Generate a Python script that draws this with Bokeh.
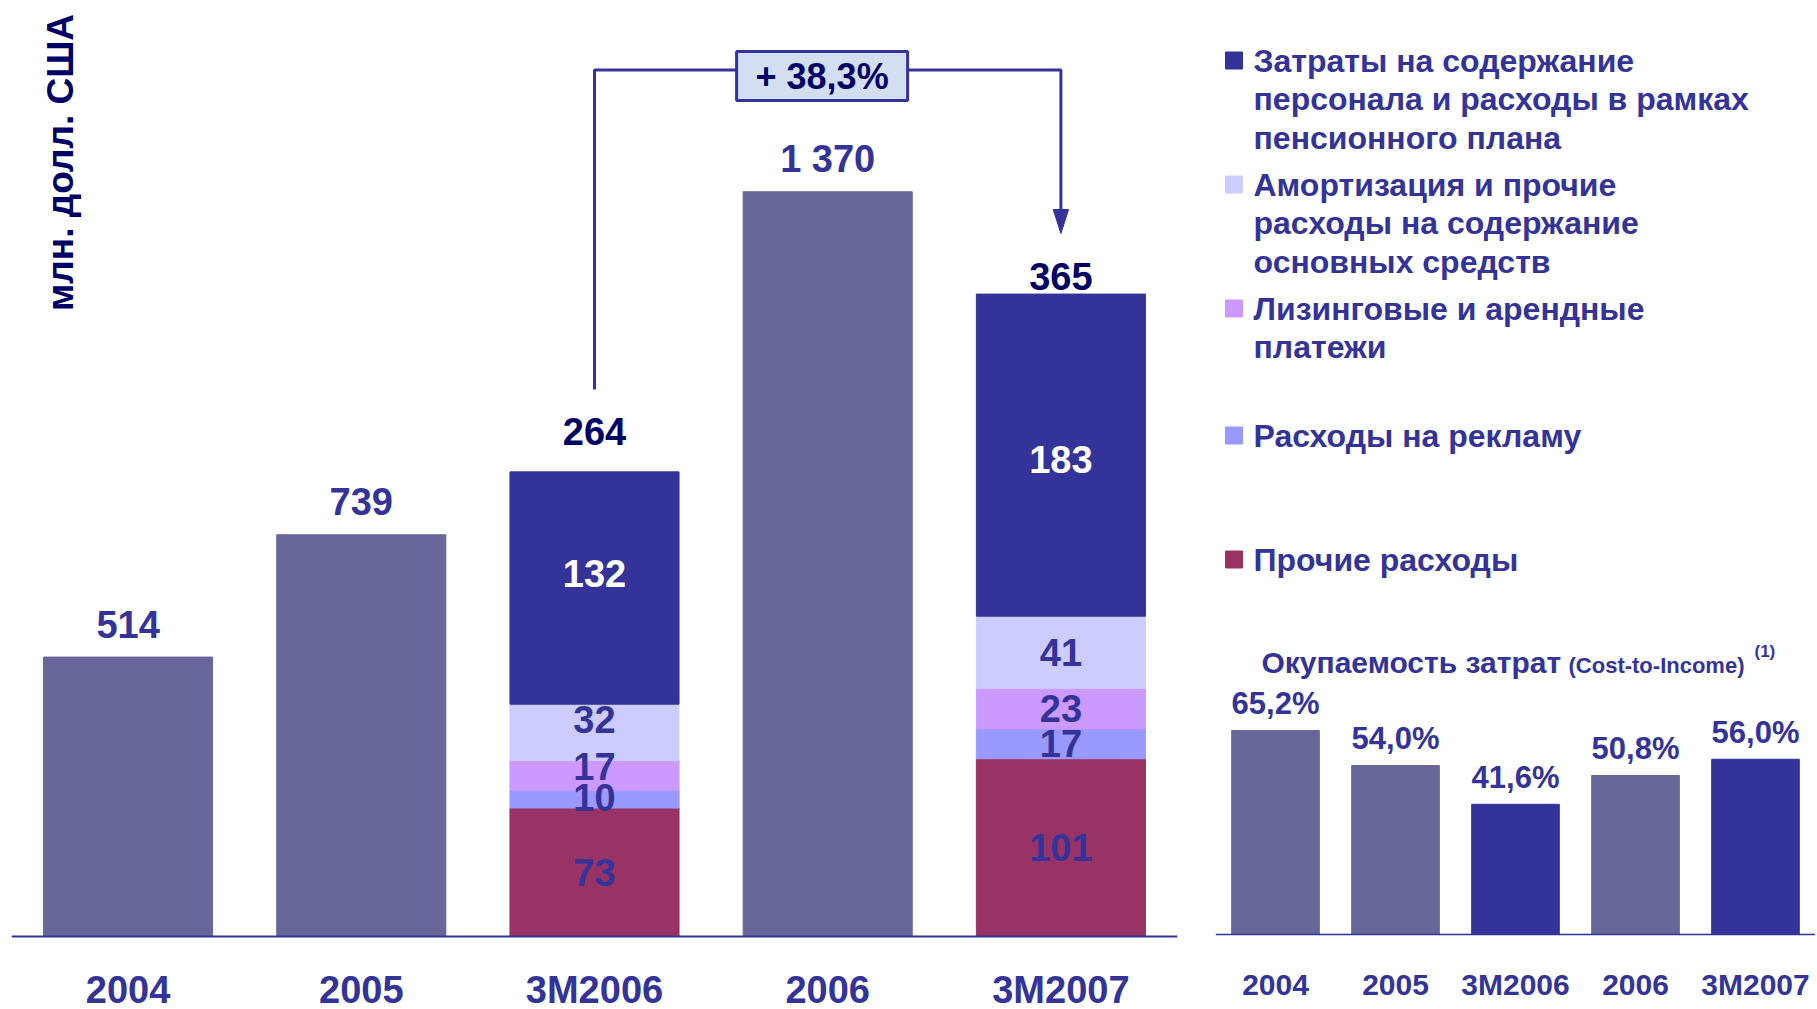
import math
from bokeh.plotting import figure
from bokeh.models import FactorRange, Range1d, Label
from bokeh.layouts import row, column
from bokeh.embed import file_html
from bokeh.resources import INLINE
from bokeh.core.properties import value

# ---------------- data ----------------
periods = ["2004", "2005", "3M2006", "2006", "3M2007"]
annual_periods = ["2004", "2005", "2006"]
annual_totals = [514, 739, 1370]
quarter_periods = ["3M2006", "3M2007"]
other_costs = [73, 101]        # Прочие расходы
advert_costs = [10, 17]        # Расходы на рекламу
leasing_costs = [17, 23]       # Лизинговые и арендные платежи
amort_costs = [32, 41]         # Амортизация ...
staff_costs = [132, 183]       # Затраты на содержание персонала ...
quarter_totals = [264, 365]
cti_values = [65.2, 54.0, 41.6, 50.8, 56.0]

legend_lines = [
    ["Затраты на содержание", "персонала и расходы в рамках", "пенсионного плана"],
    ["Амортизация и прочие", "расходы на содержание", "основных средств"],
    ["Лизинговые и арендные", "платежи"],
    ["Расходы на рекламу"],
    ["Прочие расходы"],
]
y_label = "млн. долл. США"
cti_title = "Окупаемость затрат"
cti_sub = "(Cost-to-Income)"
cti_note = "(1)"

# ---------------- styles ----------------
FONT = "Liberation Sans"
C_ANNUAL = "#666699"
C_STAFF = "#333399"
C_AMORT = "#CCCCFF"
C_LEASE = "#CC99FF"
C_ADV = "#9999FF"
C_OTHER = "#993366"
C_TEXT = "#333399"
C_DARK = "#000066"

TOTAL_W, TOTAL_H = 1815, 1009

# ---------------- left chart ----------------
W_L = 1201
BASE_L = 936             # pixel row of the zero line
PX_ANN = 0.5436          # px per mln (annual)
PX_Q = 1.76              # px per mln (quarterly)
below = TOTAL_H - BASE_L

def ann_y(iy):
    """pixel row (from top) -> annual data value"""
    return (BASE_L - iy) / PX_ANN

p = figure(width=W_L, height=TOTAL_H, x_range=FactorRange(factors=periods),
           y_range=Range1d(-below / PX_ANN, BASE_L / PX_ANN), y_axis_location=None,
           min_border_left=11, min_border_right=24, min_border_top=0,
           min_border_bottom=0, toolbar_location=None,
           output_backend="svg", outline_line_color=None)
p.extra_y_ranges = {"q": Range1d(-below / PX_Q, BASE_L / PX_Q)}
p.xgrid.visible = False
p.ygrid.visible = False
p.xaxis.fixed_location = 0
p.xaxis.axis_line_color = C_TEXT
p.xaxis.axis_line_width = 2
p.xaxis.major_tick_out = 0
p.xaxis.major_tick_in = 0
p.xaxis.major_tick_line_color = None
p.xaxis.minor_tick_line_color = None
p.xaxis.major_label_text_font = FONT
p.xaxis.major_label_text_font_style = "bold"
p.xaxis.major_label_text_font_size = "38px"
p.xaxis.major_label_text_color = C_TEXT
p.xaxis.major_label_standoff = 32

BAR_W = 0.725
p.vbar(x=annual_periods, top=annual_totals, width=BAR_W, color=C_ANNUAL)

stack_keys = ["other", "advert", "leasing", "amort", "staff"]
stack_data = {"period": quarter_periods, "other": other_costs, "advert": advert_costs,
              "leasing": leasing_costs, "amort": amort_costs, "staff": staff_costs}
stack_colors = [C_OTHER, C_ADV, C_LEASE, C_AMORT, C_STAFF]
p.vbar_stack(stack_keys, x="period", width=BAR_W, color=stack_colors,
             source=stack_data, y_range_name="q")

fmt = lambda v: f"{v:,}".replace(",", " ")

p.text(x=annual_periods, y=annual_totals, text=[fmt(v) for v in annual_totals],
       y_offset=-33, text_align="center", text_baseline="middle",
       text_font=value(FONT), text_font_style="bold", text_font_size="38px",
       text_color=C_TEXT)
total_offsets = {"3M2006": -40, "3M2007": -18}   # label gap above each stacked bar, px
p.text(x=quarter_periods, y=quarter_totals, text=[fmt(v) for v in quarter_totals],
       y_offset=[total_offsets[q] for q in quarter_periods],
       text_align="center", text_baseline="middle",
       text_font=value(FONT), text_font_style="bold", text_font_size="38px",
       text_color=C_DARK, y_range_name="q")

# small-segment label nudges (pixels, negative = up) to keep labels apart
label_nudge = {("3M2006", "leasing"): -9, ("3M2006", "advert"): -2,
               ("3M2006", "amort"): -13, ("3M2006", "staff"): -15,
               ("3M2007", "staff"): 4}
sx, sy, st, sc, so = [], [], [], [], []
for qi, per in enumerate(quarter_periods):
    cum = 0
    for key in stack_keys:
        v = stack_data[key][qi]
        sx.append(per); sy.append(cum + v / 2); st.append(str(v))
        sc.append("white" if key == "staff" else C_TEXT)
        so.append(label_nudge.get((per, key), 0))
        cum += v
p.text(x=sx, y=sy, text=st, y_offset=so, text_align="center", text_baseline="middle",
       text_font=value(FONT), text_font_style="bold", text_font_size="38px",
       text_color=sc, y_range_name="q")

# y label
CAT_PX = (W_L - 11 - 24) / len(periods)
p.add_layout(Label(x=(60 - 11) / CAT_PX, y=ann_y(162), text=y_label, angle=math.pi / 2,
                   text_align="center", text_baseline="middle", text_font=FONT,
                   text_font_style="bold", text_font_size="37px", text_color=C_DARK))

# growth bracket
i0 = periods.index("3M2006") + 0.5
i1 = periods.index("3M2007") + 0.5
y_bot, y_top, y_hb, y_tip = ann_y(389), ann_y(69.5), ann_y(209), ann_y(233)
p.line(x=[i0, i0, i1, i1], y=[y_bot, y_top, y_top, y_hb], line_color=C_TEXT, line_width=3)
p.patch(x=[i1 - 0.033, i1 + 0.033, i1], y=[y_hb, y_hb, y_tip], color=C_TEXT)
growth = (quarter_totals[1] / quarter_totals[0] - 1) * 100
growth_txt = "+ " + f"{growth:.1f}".replace(".", ",") + "%"
bx = periods.index("2006") + 0.476
by = ann_y(75.5)
p.rect(x=bx, y=by, width=171, height=49, width_units="screen", height_units="screen",
       fill_color="#D3DEF0", line_color=C_TEXT, line_width=3)
p.text(x=bx, y=by, text=[growth_txt], text_align="center", text_baseline="middle",
       text_font=value(FONT), text_font_style="bold", text_font_size="36px",
       text_color=C_DARK)

# ---------------- legend panel ----------------
W_R = TOTAL_W - W_L
H_LG = 684
R_LEFT = 14      # frame inset shared by the right column
lg = figure(width=W_R, height=H_LG, x_range=Range1d(R_LEFT, W_R), y_range=Range1d(H_LG, 0),
            x_axis_location=None, y_axis_location=None, min_border=0,
            min_border_left=R_LEFT,
            toolbar_location=None, output_backend="svg", outline_line_color=None)
lg.xgrid.visible = False
lg.ygrid.visible = False
legend_colors = [C_STAFF, C_AMORT, C_LEASE, C_ADV, C_OTHER]
first_y = [60, 184, 308, 435, 559]
LINE_H = 38.5
lg.rect(x=[32.5] * 5, y=first_y, width=17, height=17, color=legend_colors)
lx, ly, lt = [], [], []
for lines, y0 in zip(legend_lines, first_y):
    for k, t in enumerate(lines):
        lx.append(52); ly.append(y0 + k * LINE_H); lt.append(t)
lg.text(x=lx, y=ly, text=lt, text_align="left", text_baseline="middle",
        text_font=value(FONT), text_font_style="bold", text_font_size="32px",
        text_color=C_TEXT)
lg.text(x=[60], y=[662], text=[cti_title], text_align="left", text_baseline="middle",
        text_font=value(FONT), text_font_style="bold", text_font_size="30px", text_color=C_TEXT)
lg.text(x=[367], y=[665], text=[cti_sub], text_align="left", text_baseline="middle",
        text_font=value(FONT), text_font_style="bold", text_font_size="22px", text_color=C_TEXT)
lg.text(x=[553], y=[651], text=[cti_note], text_align="left", text_baseline="middle",
        text_font=value(FONT), text_font_style="bold", text_font_size="17px", text_color=C_TEXT)

# ---------------- right chart ----------------
H_R = TOTAL_H - H_LG
BASE_R = 934 - H_LG
PX_PCT = 3.13
r = figure(width=W_R, height=H_R, x_range=FactorRange(factors=periods),
           y_range=Range1d(-(H_R - BASE_R) / PX_PCT, BASE_R / PX_PCT), y_axis_location=None,
           min_border_left=R_LEFT, min_border_right=0, min_border_top=0,
           min_border_bottom=0, toolbar_location=None,
           output_backend="svg", outline_line_color=None)
r.xgrid.visible = False
r.ygrid.visible = False
r.xaxis.fixed_location = 0
r.xaxis.axis_line_color = C_TEXT
r.xaxis.axis_line_width = 1.5
r.xaxis.major_tick_out = 0
r.xaxis.major_tick_in = 0
r.xaxis.major_tick_line_color = None
r.xaxis.minor_tick_line_color = None
r.xaxis.major_label_text_font = FONT
r.xaxis.major_label_text_font_style = "bold"
r.xaxis.major_label_text_font_size = "30px"
r.xaxis.major_label_text_color = C_TEXT
r.xaxis.major_label_standoff = 33
cti_colors = [C_STAFF if per.startswith("3M") else C_ANNUAL for per in periods]
r.vbar(x=periods, top=cti_values, width=0.73, color=cti_colors)
r.text(x=periods, y=cti_values, text=[f"{v:.1f}".replace(".", ",") + "%" for v in cti_values],
       y_offset=-27, text_align="center", text_baseline="middle",
       text_font=value(FONT), text_font_style="bold", text_font_size="31px", text_color=C_TEXT)

layout = row(p, column(lg, r, spacing=0), spacing=0)
open("out.html", "w").write(file_html(layout, INLINE))
